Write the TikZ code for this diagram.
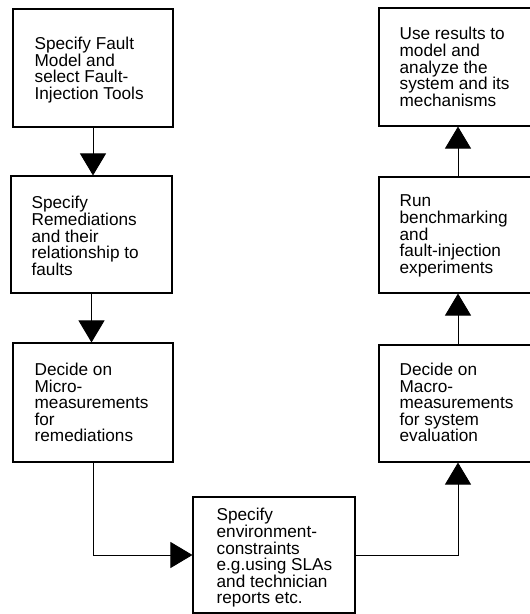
\documentclass[tikz,border=0pt]{standalone}
\usepackage{fontspec}
\setmainfont{Liberation Sans}
\usetikzlibrary{arrows.meta}
\begin{document}
\begin{tikzpicture}[x=1pt,y=-1pt,
  boxshape/.style={draw,line width=1.1pt,inner sep=0pt},
  label/.style={anchor=west,align=left,inner sep=0pt,font=\fontsize{17.2}{16.6}\selectfont},
  flow/.style={line width=0.9pt,-{Triangle[length=22pt,width=26pt]}}]
\useasboundingbox (0,0) rectangle (530,614);
\clip (0,0) rectangle (530,614);
% left column
\node[boxshape,minimum width=160pt,minimum height=118pt] (b1) at (93,68) {};
\node[boxshape,minimum width=161pt,minimum height=117pt] (b2) at (91.5,234.5) {};
\node[boxshape,minimum width=160pt,minimum height=119pt] (b3) at (93,402.5) {};
% bottom middle
\node[boxshape,minimum width=162pt,minimum height=116pt] (env) at (274,555) {};
% right column
\node[boxshape,minimum width=158pt,minimum height=117pt] (macro) at (458,403.5) {};
\node[boxshape,minimum width=158pt,minimum height=116pt] (run) at (458,235) {};
\node[boxshape,minimum width=158pt,minimum height=118pt] (res) at (458,67) {};
% texts
\node[label] (t1) at ([xshift=22pt,yshift=-2pt]b1.west) {Specify Fault\\Model and\\select Fault-\\Injection Tools};
\node[label] (t2) at ([xshift=21pt,yshift=-1.5pt]b2.west) {Specify\\Remediations\\and their\\relationship to\\faults};
\node[label] (t3) at ([xshift=22pt]b3.west) {Decide on\\Micro-\\measurements\\for\\remediations};
\node[label] (t4) at ([xshift=24pt,yshift=-3pt]env.west) {Specify\\environment-\\constraints\\e.g.using SLAs\\and technician\\reports etc.};
\node[label] (t5) at ([xshift=21pt,yshift=1pt]macro.west) {Decide on\\Macro-\\measurements\\for system\\evaluation};
\node[label] (t6) at ([xshift=21pt,yshift=-1pt]run.west) {Run\\benchmarking\\and\\fault-injection\\experiments};
\node[label] (t7) at ([xshift=21pt]res.west) {Use results to\\model and\\analyze the\\system and its\\mechanisms};
% connectors
\draw[flow] (b1.south) -- (b1.south |- b2.north);
\draw[flow] (b2.south) -- (b2.south |- b3.north);
\draw[flow] (b3.south) |- (env.west);
\draw[flow] (env.east) -| (macro.south);
\draw[flow] (macro.north) -- (run.south);
\draw[flow] (run.north) -- (res.south);
\end{tikzpicture}
\end{document}
